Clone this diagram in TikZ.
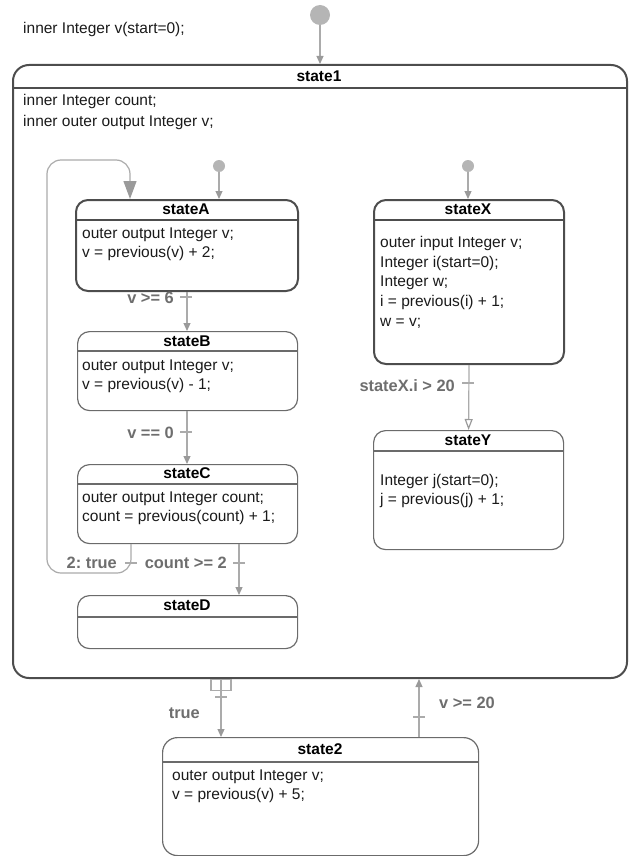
\documentclass[tikz,border=0pt]{standalone}
\usepackage{fontspec}
\setmainfont{Liberation Sans}
\usetikzlibrary{arrows.meta}
\frenchspacing
\definecolor{boxdark}{HTML}{4D4D4D}
\definecolor{boxthin}{HTML}{6B6B6B}
\definecolor{linegray}{HTML}{ABABAB}
\definecolor{tipgray}{HTML}{9A9A9A}
\definecolor{labelgray}{HTML}{6E6E6E}
\definecolor{txt}{HTML}{1A1A1A}
\definecolor{dotgray}{HTML}{B5B5B5}
\newcommand{\bodylines}[1]{\begin{tabular}[t]{@{}l@{}}#1\end{tabular}}
\begin{document}
\frenchspacing
\begin{tikzpicture}[x=1pt,y=-1pt,
  every node/.style={font=\fontsize{15.5}{19.7}\selectfont, text=txt, inner sep=0pt},
  activebox/.style={draw=boxdark, line width=2pt, rounded corners=12pt, anchor=north west},
  statebox/.style={draw=boxthin, line width=1.2pt, rounded corners=12pt, anchor=north west},
  headdark/.style={draw=boxdark, line width=2pt},
  headthin/.style={draw=boxthin, line width=1.2pt},
  title/.style={font=\fontsize{15.5}{19.7}\selectfont\bfseries, text=black, anchor=base},
  body/.style={anchor=base west},
  trans/.style={draw=linegray, line width=1.2pt},
  arr/.style={-{Triangle[width=7pt,length=8pt,color=tipgray,fill=tipgray]}},
  openarr/.style={-{Triangle[open,width=8pt,length=11pt,color=tipgray]}},
  bigarr/.style={-{Triangle[width=13pt,length=18pt,color=tipgray,fill=tipgray]}},
  tick/.style={draw=linegray, line width=1.2pt},
  tlabel/.style={font=\fontsize{16.4}{19.7}\selectfont\bfseries, text=labelgray, anchor=base east},
  initdot/.style={circle, fill=dotgray, inner sep=0pt}
]
\useasboundingbox (0,0) rectangle (629,856);

% ---------- states ----------
\node[activebox, minimum width=614pt, minimum height=613pt, rounded corners=16pt] (S1) at (12,64) {};
\draw[headdark] ([yshift=-24pt]S1.north west) -- ([yshift=-24pt]S1.north east);
\node[title] (tS1) at (319,82) {state1};

\node[activebox, minimum width=222pt, minimum height=91pt] (A) at (75,199) {};
\draw[headdark] ([yshift=-21pt]A.north west) -- ([yshift=-21pt]A.north east);
\node[title] (tA) at (186,214) {stateA};

\node[statebox, minimum width=220pt, minimum height=79pt] (B) at (77,331) {};
\draw[headthin] ([yshift=-20pt]B.north west) -- ([yshift=-20pt]B.north east);
\node[title] (tB) at (187,346) {stateB};

\node[statebox, minimum width=220pt, minimum height=79pt] (C) at (77,464) {};
\draw[headthin] ([yshift=-20pt]C.north west) -- ([yshift=-20pt]C.north east);
\node[title] (tC) at (187,478) {stateC};

\node[statebox, minimum width=220pt, minimum height=53pt] (D) at (77,595) {};
\draw[headthin] ([yshift=-22pt]D.north west) -- ([yshift=-22pt]D.north east);
\node[title] (tD) at (187,610) {stateD};

\node[activebox, minimum width=190pt, minimum height=164pt] (X) at (373,199) {};
\draw[headdark] ([yshift=-21pt]X.north west) -- ([yshift=-21pt]X.north east);
\node[title] (tX) at (468,214) {stateX};

\node[statebox, minimum width=190pt, minimum height=119pt] (Y) at (373,430) {};
\draw[headthin] ([yshift=-21pt]Y.north west) -- ([yshift=-21pt]Y.north east);
\node[title] (tY) at (468,445) {stateY};

\node[statebox, minimum width=316pt, minimum height=118pt, rounded corners=15pt] (S2) at (162,737) {};
\draw[headthin] ([yshift=-25pt]S2.north west) -- ([yshift=-25pt]S2.north east);
\node[title] (tS2) at (320,754) {state2};

% ---------- texts ----------
\node[body] (top) at (23,34) {inner Integer v(start=0);};
\node[body] (bS1) at (23,106) {\bodylines{inner Integer count;\\[1pt]inner outer output Integer v;}};
\node[body] (bA) at (82,238) {\bodylines{outer output Integer v;\\v = previous(v) + 2;}};
\node[body] (bB) at (82,370) {\bodylines{outer output Integer v;\\v = previous(v) - 1;}};
\node[body] (bC) at (82,502) {\bodylines{outer output Integer count;\\count = previous(count) + 1;}};
\node[body] (bX) at (380,247.5) {\bodylines{outer input Integer v;\\Integer i(start=0);\\Integer w;\\i = previous(i) + 1;\\w = v;}};
\node[body] (bY) at (380,485) {\bodylines{Integer j(start=0);\\j = previous(j) + 1;}};
\node[body] (bS2) at (172,780) {\bodylines{outer output Integer v;\\v = previous(v) + 5;}};

% ---------- initial dots ----------
\node[initdot, minimum size=20pt] (d1) at (320,15) {};
\draw[trans, arr] (d1) -- (S1.north -| d1);
\node[initdot, minimum size=12pt] (dA) at (219,166) {};
\draw[trans, arr] (dA) -- (A.north -| dA);
\node[initdot, minimum size=12pt] (dX) at (468,166) {};
\draw[trans, arr] (dX) -- (X.north -| dX);

% ---------- transitions ----------
% A -> B
\draw[trans, arr] (A.south) -- (B.north -| A.south);
\coordinate (tAB) at (186,297);
\draw[tick] ([xshift=-6pt]tAB) -- ([xshift=6pt]tAB);
\node[tlabel] (lAB) at (174,303) {v >= 6};

% B -> C
\draw[trans, arr] (B.south -| A.south) -- (C.north -| A.south);
\coordinate (tBC) at (186,432);
\draw[tick] ([xshift=-6pt]tBC) -- ([xshift=6pt]tBC);
\node[tlabel] (lBC) at (174,438) {v == 0};

% C -> D
\coordinate (xCD) at (239,0);
\draw[trans, arr] (C.south -| xCD) -- (D.north -| xCD);
\coordinate (tCD) at (239,563);
\draw[tick] ([xshift=-6pt]tCD) -- ([xshift=6pt]tCD);
\node[tlabel] (lCD) at (227,568) {count >= 2};

% C -> A (loop)
\coordinate (xLp) at (131,0);
\coordinate (lpB) at (47,573);
\coordinate (lpT) at (130,160);
\draw[trans, bigarr, rounded corners=14pt] (C.south -| xLp) |- (lpB) |- (lpT) -- (A.north -| lpT);
\coordinate (tLp) at (131,563);
\draw[tick] ([xshift=-6pt]tLp) -- ([xshift=6pt]tLp);
\node[tlabel] (lLp) at (117,568) {2: true};

% X -> Y
\draw[trans, openarr] (X.south) -- (Y.north);
\coordinate (tXY) at (468,383);
\draw[tick] ([xshift=-6pt]tXY) -- ([xshift=6pt]tXY);
\node[tlabel] (lXY) at (455,391) {stateX.i > 20};

% state1 -> state2
\coordinate (xT) at (221,0);
\node[draw=linegray, line width=1.2pt, minimum width=20pt, minimum height=11pt, anchor=north] (mk) at (S1.south -| xT) {};
\draw[trans, arr] (S1.south -| xT) -- (S2.north -| xT);
\coordinate (tT) at (221,697);
\draw[tick] ([xshift=-6pt]tT) -- ([xshift=6pt]tT);
\node[tlabel] (lT) at (200,718) {true};

% state2 -> state1
\coordinate (xR) at (419,0);
\draw[trans, arr] (S2.north -| xR) -- (S1.south -| xR);
\coordinate (tR) at (419,717);
\draw[tick] ([xshift=-6pt]tR) -- ([xshift=6pt]tR);
\node[tlabel, anchor=base west] (lR) at (439,708) {v >= 20};
\end{tikzpicture}
\end{document}
